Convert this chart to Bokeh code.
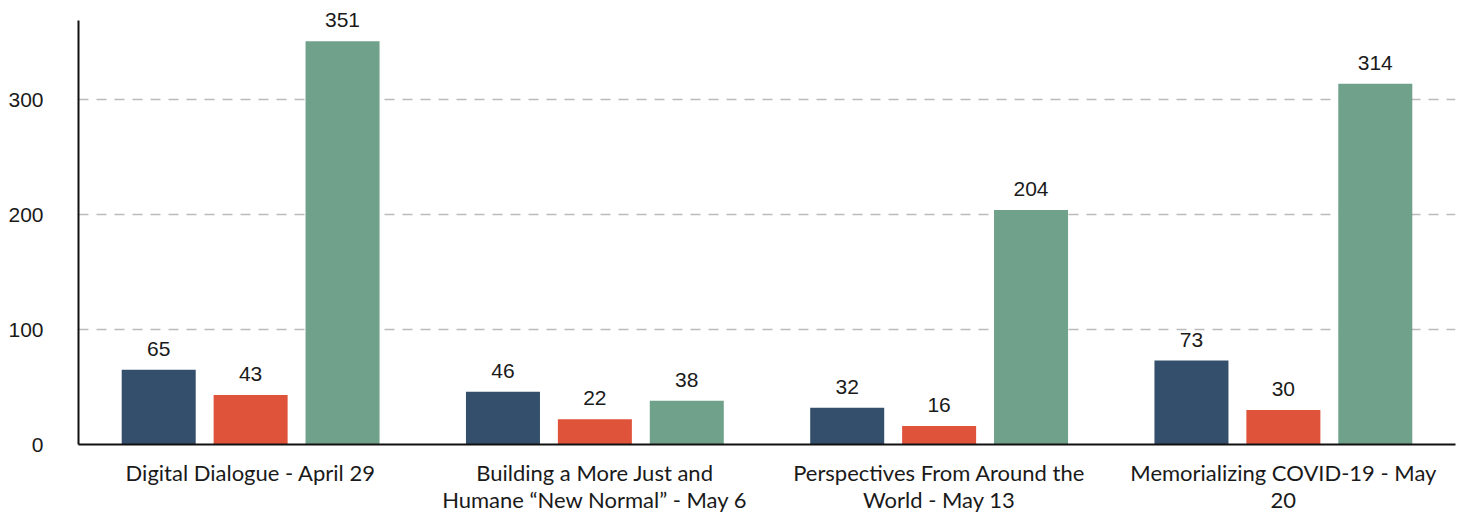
from bokeh.plotting import figure
from bokeh.models import ColumnDataSource, FactorRange, Range1d, FixedTicker, LabelSet
from bokeh.transform import dodge
from bokeh.core.properties import value
from bokeh.embed import file_html
from bokeh.resources import INLINE

categories = [
    "Digital Dialogue - April 29",
    "Building a More Just and\nHumane \u201cNew Normal\u201d - May 6",
    "Perspectives From Around the\nWorld - May 13",
    "Memorializing COVID-19 - May\n20",
]
series_a = [65, 46, 32, 73]
series_b = [43, 22, 16, 30]
series_c = [351, 38, 204, 314]
y_ticks = [0, 100, 200, 300]

colors = ["#344f6b", "#e0533b", "#70a18a"]
NUMFONT = "Liberation Sans"
TXT = "#1a1a1a"

src = ColumnDataSource(dict(cat=categories, a=series_a, b=series_b, c=series_c,
                            la=[str(v) for v in series_a],
                            lb=[str(v) for v in series_b],
                            lc=[str(v) for v in series_c]))

# frame top at 6px, so the axis-top value 369 lands at ~20px
p = figure(x_range=FactorRange(*categories), y_range=Range1d(0, 381.2),
           width=1460, height=515, output_backend="svg", toolbar_location=None,
           min_border_left=78, min_border_right=5, min_border_top=6, min_border_bottom=60)

offs = [-0.267, 0.0, 0.267]
for key, lab, col, off in zip(["a", "b", "c"], ["la", "lb", "lc"], colors, offs):
    p.vbar(x=dodge("cat", off, range=p.x_range), top=key, width=0.215,
           source=src, color=col, line_color=None)
    labels = LabelSet(x=dodge("cat", off, range=p.x_range), y=key, text=lab,
                      source=src, text_align="center", text_baseline="alphabetic",
                      y_offset=14, text_font=value(NUMFONT), text_font_size="21px",
                      text_color=TXT)
    p.add_layout(labels)

p.outline_line_color = None
p.xgrid.grid_line_color = None
p.ygrid.grid_line_color = "#bbbbbb"
p.ygrid.grid_line_dash = "10 8"
p.ygrid.grid_line_width = 1.5
p.ygrid.ticker = FixedTicker(ticks=[100, 200, 300])

p.yaxis.ticker = FixedTicker(ticks=y_ticks)
p.yaxis.bounds = (0, 369)
p.yaxis.major_tick_line_color = None
p.yaxis.minor_tick_line_color = None
p.yaxis.axis_line_color = "#111111"
p.yaxis.axis_line_width = 2
p.yaxis.major_label_standoff = 29
p.yaxis.major_label_text_font = NUMFONT
p.yaxis.major_label_text_font_size = "21px"
p.yaxis.major_label_text_color = TXT

xa = p.xaxis[0]
xa.major_tick_line_color = None
xa.minor_tick_line_color = None
xa.axis_line_color = "#111111"
xa.axis_line_width = 2
xa.major_label_standoff = 8
xa.major_label_text_font = "Lato"
xa.major_label_text_font_size = "22px"
xa.major_label_text_line_height = 1.0
xa.major_label_text_color = TXT
xa.major_label_orientation = "horizontal"

p.x_range.range_padding = 0
p.x_range.group_padding = 0

open("out.html", "w").write(file_html(p, INLINE))
